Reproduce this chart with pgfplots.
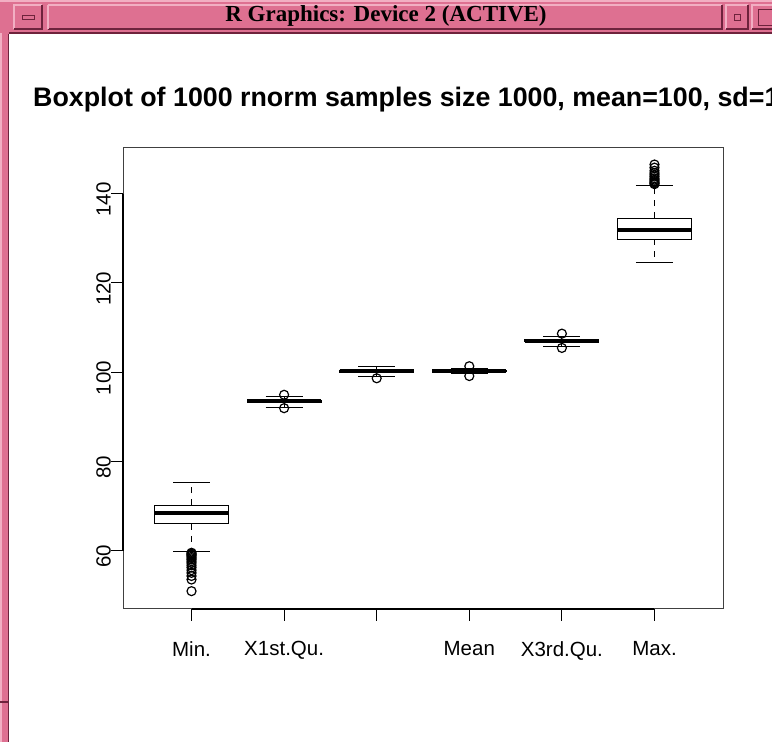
\documentclass[border=0pt]{standalone}
\usepackage{pgfplots}
\pgfplotsset{compat=1.18}
\usepgfplotslibrary{statistics}
\usepackage{fontspec}
\setmainfont{Liberation Sans}
\newfontfamily\tbfont{Liberation Serif}
\definecolor{wmpink}{RGB}{222,112,145}
\definecolor{wmlight}{RGB}{242,175,195}
\definecolor{wmdark}{RGB}{110,35,60}
\begin{document}
\begin{tikzpicture}
\useasboundingbox (0bp,0bp) rectangle (772bp,742bp);
\clip (0bp,0bp) rectangle (772bp,742bp);
\begin{scope}[x=1bp,y=1bp]
\fill[white] (0,0) rectangle (772,742);
% window frame (left strip)
\fill[wmpink] (0,0) rectangle (9,742);
\draw[wmlight, line width=1.5] (1,0) -- (1,742);
\draw[wmdark, line width=1.5] (8.5,0) -- (8.5,708);
\draw[wmdark, line width=1.5] (0,40) -- (9,40);
% title bar
\fill[wmpink] (0,742) rectangle (772,709);
\draw[wmlight, line width=1.5] (0,741) -- (772,741);
\draw[wmdark, line width=1.5] (9,709) -- (772,709);
\draw[wmlight, line width=1.5] (48,737) -- (722,737);
\draw[wmdark, line width=1.5] (48,713) -- (722,713) -- (722,737);
\draw[wmlight, line width=1.5] (48,713) -- (48,737);
% left button
\draw[wmlight, line width=1.5] (14,713) -- (14,737) -- (42,737);
\draw[wmdark, line width=1.5] (14,713) -- (42,713) -- (42,737);
\draw[wmdark, line width=1] (22,723) rectangle (34,727);
% right buttons
\draw[wmlight, line width=1.5] (726,713) -- (726,737) -- (748,737);
\draw[wmdark, line width=1.5] (726,713) -- (748,713) -- (748,737);
\draw[wmdark, line width=1] (734,722) rectangle (740,728);
\draw[wmlight, line width=1.5] (752,713) -- (752,737) -- (772,737);
\draw[wmdark, line width=1.5] (752,713) -- (772,713);
\draw[wmdark, line width=1] (758,717) rectangle (772,733);
\node[font=\tbfont\bfseries\fontsize{23bp}{27bp}\selectfont, text=black, anchor=center] at (386,726) {R Graphics: Device 2 (ACTIVE)};
% chart title
\node[anchor=base west, inner sep=0pt, font=\fontsize{26.8bp}{31bp}\selectfont\bfseries] at (33,635) {Boxplot of 1000 rnorm samples size 1000, mean=100, sd=10};
\end{scope}
\begin{axis}[
  at={(123bp,133bp)}, anchor=south west,
  scale only axis, width=600bp, height=461bp,
  xmin=0.26, xmax=6.74, ymin=46.9, ymax=150.2,
  xtick={1,2,3,4,5,6}, xticklabels={Min.,X1st.Qu.,,Mean,X3rd.Qu.,Max.},
  ytick={60,80,100,120,140},
  tick pos=left, tick align=outside, major tick length=12bp,
  axis line style={black!75, line width=1bp},
  tick style={black, line width=1bp},
  ticklabel style={font=\fontsize{20.5bp}{24bp}\selectfont},
  yticklabel style={rotate=90, anchor=south, inner sep=0pt, xshift=-6bp},
  xticklabel style={anchor=north, inner sep=0pt, yshift=-20bp},
  /pgf/number format/assume math mode=true,
  boxplot/draw direction=y,
  boxplot/box extend=0.8,
  boxplot/whisker extend=0.4,
  boxplot/every median/.style={line width=4bp},
  boxplot/draw/lower whisker/.code={
    \draw[black, line width=1bp, dash pattern=on 6bp off 6bp] (boxplot box cs:\pgfplotsboxplotvalue{lower quartile},0.5) -- (boxplot box cs:\pgfplotsboxplotvalue{lower whisker},0.5);
    \draw[black, line width=1bp, solid] (boxplot whisker cs:\pgfplotsboxplotvalue{lower whisker},0) -- (boxplot whisker cs:\pgfplotsboxplotvalue{lower whisker},1);
  },
  boxplot/draw/upper whisker/.code={
    \draw[black, line width=1bp, dash pattern=on 6bp off 6bp] (boxplot box cs:\pgfplotsboxplotvalue{upper quartile},0.5) -- (boxplot box cs:\pgfplotsboxplotvalue{upper whisker},0.5);
    \draw[black, line width=1bp, solid] (boxplot whisker cs:\pgfplotsboxplotvalue{upper whisker},0) -- (boxplot whisker cs:\pgfplotsboxplotvalue{upper whisker},1);
  },
  clip=false,
]
\addplot[black, line width=1bp, mark=o, mark size=4.5bp, mark options={line width=1.2bp, solid},
  boxplot prepared={draw position=1, lower whisker=59.75, lower quartile=65.95, median=68.4, upper quartile=70.2, upper whisker=75.35}]
  table[row sep=\\, y index=0] {y\\ 59.5\\ 59.3\\ 59.1\\ 58.9\\ 58.6\\ 58.3\\ 58.0\\ 57.6\\ 57.2\\ 56.7\\ 56.2\\ 55.6\\ 55.0\\ 54.3\\ 53.5\\ 50.9\\};
\addplot[black, line width=1bp, mark=o, mark size=4.5bp, mark options={line width=1.2bp, solid},
  boxplot prepared={draw position=2, lower whisker=92.1, lower quartile=93.2, median=93.4, upper quartile=93.65, upper whisker=94.6}]
  table[row sep=\\, y index=0] {y\\ 94.9\\ 91.9\\};
\addplot[black, line width=1bp, mark=o, mark size=4.5bp, mark options={line width=1.2bp, solid},
  boxplot prepared={draw position=3, lower whisker=99.1, lower quartile=99.95, median=100.2, upper quartile=100.45, upper whisker=101.2}]
  table[row sep=\\, y index=0] {y\\ 98.6\\};
\addplot[black, line width=1bp, mark=o, mark size=4.5bp, mark options={line width=1.2bp, solid},
  boxplot prepared={draw position=4, lower whisker=99.6, lower quartile=100.05, median=100.25, upper quartile=100.45, upper whisker=100.9}]
  table[row sep=\\, y index=0] {y\\ 101.3\\ 99.1\\};
\addplot[black, line width=1bp, mark=o, mark size=4.5bp, mark options={line width=1.2bp, solid},
  boxplot prepared={draw position=5, lower whisker=105.8, lower quartile=106.75, median=107.0, upper quartile=107.25, upper whisker=107.9}]
  table[row sep=\\, y index=0] {y\\ 108.6\\ 105.4\\};
\addplot[black, line width=1bp, mark=o, mark size=4.5bp, mark options={line width=1.2bp, solid},
  boxplot prepared={draw position=6, lower whisker=124.5, lower quartile=129.8, median=131.8, upper quartile=134.5, upper whisker=141.8}]
  table[row sep=\\, y index=0] {y\\ 142.1\\ 142.3\\ 142.5\\ 142.8\\ 143.1\\ 143.4\\ 143.8\\ 144.2\\ 144.6\\ 145.1\\ 145.8\\ 146.5\\};
\draw[black, line width=1.2bp] (axis cs:0.26,60) -- (axis cs:0.26,140);
\draw[black, line width=1.2bp] (axis cs:1,46.9) -- (axis cs:6,46.9);
\end{axis}
\end{tikzpicture}
\end{document}
